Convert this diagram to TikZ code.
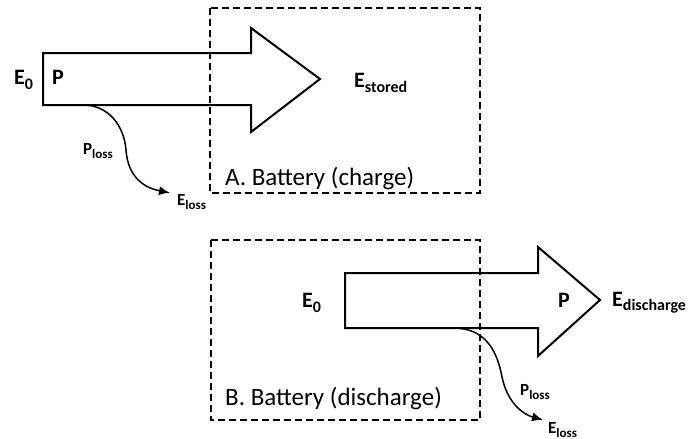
\documentclass[tikz,border=0pt]{standalone}
\usepackage{fontspec}
\setmainfont{Carlito}
\usetikzlibrary{arrows.meta}

\newcommand{\sousind}[3]{\raisebox{-#3pt}{\fontsize{#2}{#2}\selectfont #1}}

\tikzset{
  fleche/.style={draw, line width=2pt, line join=miter},
  boite/.style={draw, line width=2pt, dash pattern=on 7pt off 4pt},
  fuite/.style={line width=1.5pt, -{Latex[length=11pt,width=9pt]}},
  grand/.style={font=\bfseries\fontsize{22}{22}\selectfont, inner sep=0pt, anchor=base west},
  petit/.style={font=\bfseries\fontsize{17}{17}\selectfont, inner sep=0pt, anchor=base west},
  legende/.style={font=\fontsize{25}{25}\selectfont, inner sep=0pt, anchor=base west}
}

\begin{document}
\begin{tikzpicture}[x=1pt,y=1pt]
    \useasboundingbox (0,0) rectangle (691,-439);

    % A : charge de la batterie
    \draw[boite] (210,-8) rectangle (480,-193); % Cadre de la batterie
    \draw[fleche] (43,-53) -- (251,-53) -- (251,-28) -- (320,-79) -- (251,-132) -- (251,-105) -- (43,-105) -- cycle;
    \coordinate (departA) at (83,-105); % Point de départ des pertes

    \node[grand] (e0A) at (14,-84) {E\sousind{0}{16}{5}};
    \node[grand] (pA) at (52,-84) {P};
    \node[grand] (estocke) at (354,-87) {E\sousind{stored}{16}{5}};
    \node[legende] (battA) at (225,-185) {A. Battery (charge)};
    \node[petit] (plossA) at (83,-154) {P\sousind{loss}{13}{4}};
    \node[petit] (elossA) at (177,-205) {E\sousind{loss}{13}{4}};

    \draw[fuite] (departA) .. controls (108,-105) and (124,-125) .. (126,-150)
        .. controls (128,-178) and (145,-188) .. ([xshift=-7pt,yshift=1pt]elossA.north west);

    % B : décharge de la batterie
    \draw[boite] (211,-240) rectangle (480,-420); % Cadre de la batterie
    \draw[fleche] (345,-273) -- (538,-273) -- (538,-247) -- (600,-300) -- (538,-356) -- (538,-328) -- (345,-328) -- cycle;
    \coordinate (departB) at (453,-328); % Point de départ des pertes

    \node[grand] (e0B) at (302,-307) {E\sousind{0}{16}{5}};
    \node[grand] (pB) at (558,-307) {P};
    \node[grand] (edecharge) at (612,-306) {E\sousind{discharge}{16}{4}};
    \node[legende] (battB) at (225,-405) {B. Battery (discharge)};
    \node[petit] (plossB) at (520,-395) {P\sousind{loss}{13}{4}};
    \node[petit] (elossB) at (548,-433) {E\sousind{loss}{13}{4}};

    \draw[fuite] (departB) .. controls (485,-328) and (497,-350) .. (502,-377)
        .. controls (508,-405) and (525,-415) .. ([xshift=-5pt,yshift=2pt]elossB.north west);
\end{tikzpicture}
\end{document}
